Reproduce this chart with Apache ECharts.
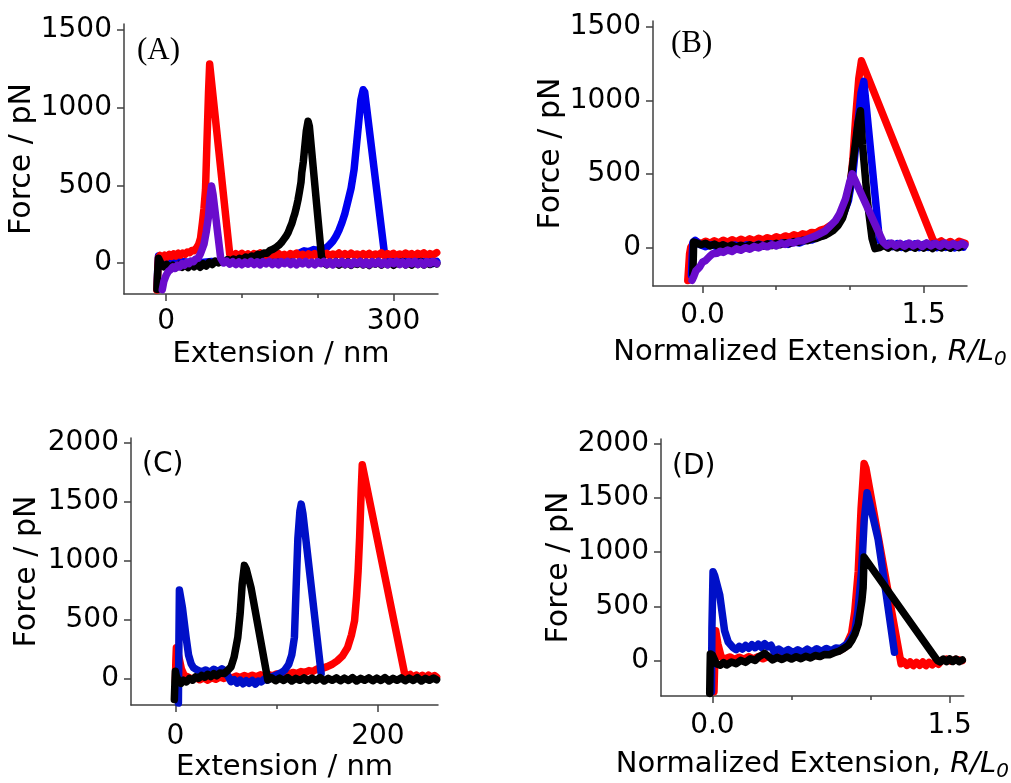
<!DOCTYPE html>
<html>
<head>
<meta charset="utf-8">
<script src="https://cdn.jsdelivr.net/npm/echarts@6/dist/echarts.min.js"></script>
<style>
  html, body { margin: 0; padding: 0; background: #fff; }
  #chart { width: 1011px; height: 783px; }
</style>
</head>
<body>
<div id="chart"></div>
<script>
// ---- Panel (A): force vs extension, nm ----
const redA = [[-12,-175],[-11,-60],[-10,35],[-8,48],[-5,30],[-2,50],[1,38],[4,55],[7,42],[10,58],[13,45],[16,62],[19,50],[22,64],[25,55],[28,70],[31,66],[34,80],[37,78],[40,95],[43,120],[45.5,160],[48,260],[50,350],[52,470],[54,790],[56,1100],[57.5,1280],[59,1270],
  [84,55],[88,44],[92,60],[96,48],[100,62],[104,45],[108,58],[112,42],[116,60],[120,50],[124,64],[128,44],[132,56],[136,40],[140,58],[144,48],[148,62],[152,45],[156,55],[160,42],[164,60],[168,50],[172,63],[176,45],[180,56],[184,40],[188,58],[192,46],[196,60],[200,44],[204,57],[208,48],[212,62],[216,45],[220,58],[224,50],[228,64],[232,46],[236,60],[240,48],[244,63],[248,50],[252,58],[256,44],[260,60],[264,48],[268,62],[272,46],[276,58],[280,50],[284,65],[288,47],[292,60],[296,50],[300,62],[304,46],[308,58],[312,49],[316,64],[320,50],[324,60],[328,45],[332,62],[336,52],[340,65],[344,48],[348,60],[352,50],[357,66]];
const blueA = [[-12,-170],[-11,-40],[-10,45],[-7,30],[-3,10],[0,5],[20,10],[40,0],[60,10],[80,5],[100,15],[120,10],[140,15],[150,20],[160,35],[168,50],[175,62],[182,78],[188,72],[195,86],[202,80],[208,90],[212,100],[216,118],[220,140],[224,170],[228,210],[232,260],[236,320],[240,400],[244,480],[248,600],[251,750],[254,900],[257,1050],[260,1115],[262,1100],
  [288,64],[292,25],[296,5],[300,15],[304,-2],[308,12],[312,0],[316,14],[320,-3],[324,10],[328,2],[332,16],[336,-2],[340,12],[344,0],[348,14],[352,-4],[357,10]];
const blackA = [[-12,-170],[-11,-50],[-10,30],[-7,0],[-3,-25],[1,-10],[5,-35],[9,-15],[13,-30],[17,-10],[21,-28],[25,-12],[29,-30],[33,-8],[37,-25],[41,-10],[45,-28],[49,-5],[53,-20],[57,5],[61,-10],[65,12],[69,0],[73,18],[77,5],[81,22],[85,10],[89,25],[93,15],[97,30],[101,20],[105,38],[109,30],[113,45],[117,38],[121,55],[125,50],[129,64],[133,62],[137,80],[141,88],[145,100],[149,115],[152,130],[155,150],[158,170],[161,195],[163,220],[166,255],[168,290],[170,320],[172,360],[174,405],[176,460],[178,520],[179,580],[181,650],[182,700],[184,800],[185,850],[187.3,912],[189,880],
  [205,42],[208,0],[212,-12],[216,5],[220,-10],[224,8],[228,-14],[232,2],[236,-12],[240,6],[244,-15],[248,0],[252,-10],[256,8],[260,-12],[264,3],[268,-16],[272,5],[276,-8],[280,8],[284,-14],[288,2],[292,-10],[296,6],[300,-15],[304,0],[308,-8],[312,8],[316,-12],[320,4],[324,-14],[328,5],[332,-9],[336,8],[340,-13],[344,2],[348,-10],[352,6],[357,-6]];
const purpleA = [[-5,-172],[-3,-120],[0,-80],[3,-55],[6,-43],[9,-25],[12,-35],[15,-15],[18,-25],[21,-5],[24,-15],[27,2],[30,-5],[33,12],[36,8],[39,25],[42,30],[45,55],[47,80],[50,120],[53,200],[56,300],[58,420],[60,495],[62,440],
  [72,32],[76,0],[80,12],[84,-8],[88,8],[92,-10],[96,6],[100,-12],[104,5],[108,-8],[112,10],[116,-10],[120,6],[124,-12],[128,8],[132,-6],[136,10],[140,-10],[144,5],[148,-12],[152,8],[156,-5],[160,10],[164,-10],[168,6],[172,-12],[176,8],[180,-6],[184,10],[188,-10],[192,5],[196,-12],[200,8],[204,-5],[208,10],[212,-10],[216,6],[220,-12],[224,8],[228,-6],[232,10],[236,-10],[240,5],[244,-12],[248,8],[252,-5],[256,10],[260,-10],[264,6],[268,-12],[272,8],[276,-6],[280,10],[284,-10],[288,5],[292,-12],[296,8],[300,-5],[304,10],[308,-10],[312,6],[316,-12],[320,8],[324,-6],[328,10],[332,-10],[336,5],[340,-12],[344,8],[348,-5],[352,10],[357,-4]];

// ---- Panel (B): force vs normalized extension ----
const redB = [[-0.1,-225],[-0.095,-150],[-0.088,-45],[-0.08,0],[-0.06,30],[-0.04,40],[-0.01,25],[0.02,42],[0.05,28],[0.08,45],[0.11,30],[0.14,48],[0.17,35],[0.2,52],[0.23,38],[0.26,55],[0.29,42],[0.32,58],[0.35,45],[0.38,62],[0.41,50],[0.44,66],[0.47,55],[0.5,72],[0.53,60],[0.56,78],[0.59,68],[0.62,85],[0.65,75],[0.68,92],[0.71,85],[0.74,102],[0.77,98],[0.8,118],[0.83,125],[0.86,145],[0.89,160],[0.92,185],[0.95,230],[0.97,280],[0.99,350],[1.0,400],[1.02,600],[1.04,900],[1.06,1150],[1.078,1270],
  [1.565,48],[1.59,28],[1.62,44],[1.65,22],[1.68,40],[1.71,20],[1.74,42],[1.78,28]];
const blueB = [[-0.075,-190],[-0.07,-60],[-0.065,35],[-0.05,48],[-0.02,20],[0.02,5],[0.06,18],[0.1,2],[0.14,15],[0.18,0],[0.22,16],[0.26,2],[0.3,18],[0.34,5],[0.38,22],[0.42,8],[0.46,25],[0.5,12],[0.54,30],[0.58,20],[0.62,38],[0.66,30],[0.7,50],[0.74,50],[0.78,70],[0.82,80],[0.86,108],[0.9,140],[0.95,210],[0.99,320],[1.02,500],[1.05,800],[1.075,1050],[1.094,1130],
  [1.2,50],[1.23,12],[1.26,28],[1.29,5],[1.32,25],[1.35,0],[1.38,22],[1.41,2],[1.44,24],[1.47,-2],[1.5,20],[1.53,0],[1.56,22],[1.59,-2],[1.62,20],[1.65,0],[1.68,18],[1.71,-4],[1.74,16],[1.77,2]];
const blackB = [[-0.066,-180],[-0.062,-50],[-0.06,36],[-0.04,30],[-0.01,18],[0.02,28],[0.05,10],[0.08,22],[0.11,5],[0.14,18],[0.17,2],[0.2,16],[0.23,0],[0.26,15],[0.29,2],[0.32,18],[0.35,4],[0.38,20],[0.41,8],[0.44,24],[0.47,12],[0.5,28],[0.53,18],[0.56,32],[0.59,25],[0.62,40],[0.65,35],[0.68,48],[0.71,45],[0.74,58],[0.77,60],[0.8,72],[0.83,82],[0.86,98],[0.89,118],[0.92,150],[0.95,200],[0.98,300],[1.0,420],[1.03,650],[1.055,850],[1.071,930],[1.085,700],[1.12,300],[1.15,60],[1.17,-9],
  [1.2,-2],[1.23,15],[1.26,-5],[1.29,18],[1.32,-4],[1.35,16],[1.38,-8],[1.41,14],[1.44,-6],[1.47,18],[1.5,-5],[1.53,15],[1.56,-8],[1.59,16],[1.62,-4],[1.65,14],[1.68,-6],[1.71,18],[1.74,-2],[1.77,12]];
const purpleB = [[-0.071,-224],[-0.06,-200],[-0.045,-160],[-0.02,-134],[0.0,-100],[0.02,-90],[0.05,-60],[0.07,-43],[0.1,-40],[0.12,-26],[0.14,-34],[0.17,-18],[0.2,-28],[0.23,-10],[0.26,-20],[0.29,-2],[0.32,-12],[0.35,5],[0.38,-4],[0.41,12],[0.44,4],[0.47,18],[0.5,10],[0.53,26],[0.56,20],[0.59,34],[0.62,30],[0.65,44],[0.68,45],[0.72,60],[0.76,75],[0.8,95],[0.83,110],[0.86,140],[0.9,180],[0.93,229],[0.97,330],[1.0,450],[1.015,500],
  [1.225,36],[1.25,12],[1.28,30],[1.31,10],[1.34,28],[1.37,8],[1.4,30],[1.43,10],[1.46,28],[1.49,6],[1.52,30],[1.55,10],[1.58,28],[1.61,8],[1.64,30],[1.67,10],[1.7,26],[1.73,8],[1.76,28],[1.78,16]];

// ---- Panel (C): force vs extension, nm ----
const redC = [[0,-30],[0.5,150],[1,260],[3,200],[6,80],[9,20],[12,15],[16,-5],[20,8],[24,-12],[28,4],[32,-15],[36,6],[40,-8],[44,12],[48,0],[52,16],[56,4],[60,20],[64,8],[68,24],[72,12],[76,26],[80,14],[84,30],[88,18],[92,32],[96,22],[100,38],[104,28],[108,44],[112,34],[116,50],[120,42],[124,58],[128,50],[132,66],[136,60],[140,80],[145,85],[150,100],[155,120],[160,150],[165,190],[170,260],[174,370],[177,490],[179,700],[180.5,909],[182,1200],[183.6,1608],[184.6,1815],
  [226.4,42],[229,18],[232,34],[235,10],[238,28],[241,6],[244,26],[247,8],[250,28],[253,10],[256,24],[258,12]];
const blueC = [[3,-210],[3.5,300],[4,750],[5,740],[7,600],[10.6,350],[13,200],[15.5,126],[18,90],[22,70],[26,55],[30,72],[34,50],[38,78],[42,58],[46,82],[48,70],[52,20],[55,-28],[58,-10],[61,-40],[64,-15],[67,-45],[70,-20],[73,-42],[76,-18],[79,-48],[82,-22],[85,-30],[88,-5],[91,-15],[95,12],[100,30],[105,50],[108,70],[112,120],[115,200],[117.6,350],[119,700],[121,1189],[123,1420],[124.3,1480],[126,1400],[144,42]];
const blackC = [[-1,-180],[-0.5,-50],[0,60],[1,20],[3,-20],[5.6,-42],[8,-15],[11,-30],[14,0],[17,-15],[20,14],[23,0],[26,25],[29,10],[32,35],[35,15],[38,40],[41,22],[44,45],[48.4,42],[52,70],[55,98],[58,180],[61.7,350],[64,550],[66,800],[68.2,960],[70,930],[74.8,769],[91.3,-14],
  [95,5],[99,-20],[103,2],[107,-18],[111,6],[115,-22],[119,0],[123,-16],[127,4],[131,-20],[135,2],[139,-18],[143,6],[147,-22],[151,0],[155,-16],[159,4],[163,-20],[167,2],[171,-18],[175,6],[179,-22],[183,0],[187,-16],[191,4],[195,-20],[199,2],[203,-18],[207,6],[211,-22],[215,0],[219,-16],[223,4],[227,-20],[231,2],[235,-18],[239,6],[243,-22],[247,0],[251,-16],[255,4],[258,-12]];

// ---- Panel (D): force vs normalized extension ----
const redD = [[0.01,-290],[0.015,0],[0.021,274],[0.035,150],[0.056,30],[0.08,15],[0.11,32],[0.14,10],[0.17,30],[0.2,12],[0.23,34],[0.26,14],[0.29,36],[0.32,15],[0.35,35],[0.38,16],[0.41,36],[0.44,18],[0.47,38],[0.5,20],[0.53,40],[0.56,24],[0.59,44],[0.62,30],[0.65,50],[0.68,40],[0.71,62],[0.74,58],[0.77,78],[0.8,88],[0.84,121],[0.88,250],[0.9,450],[0.922,822],[0.94,1400],[0.959,1820],[0.97,1780],
  [1.193,-31],[1.21,-10],[1.23,-45],[1.25,-15],[1.27,-48],[1.29,-18],[1.31,-45],[1.33,-15],[1.35,-48],[1.37,-18],[1.39,-42],[1.41,-12],[1.43,-35],[1.45,0],[1.48,12],[1.51,-8],[1.54,10],[1.58,-2]];
const blueD = [[-0.006,-290],[-0.003,300],[0.004,820],[0.015,780],[0.046,608],[0.077,274],[0.1,170],[0.129,121],[0.15,100],[0.17,130],[0.19,105],[0.21,138],[0.23,112],[0.25,145],[0.27,118],[0.29,150],[0.31,120],[0.33,155],[0.35,125],[0.37,140],[0.39,80],[0.42,105],[0.45,75],[0.48,100],[0.51,72],[0.54,98],[0.57,75],[0.6,104],[0.63,78],[0.66,108],[0.69,82],[0.72,110],[0.75,90],[0.78,115],[0.81,110],[0.85,150],[0.88,210],[0.901,274],[0.92,450],[0.943,822],[0.96,1300],[0.978,1550],[0.995,1450],[1.047,1126],[1.1,600],[1.151,76]];
const blackD = [[-0.017,-305],[-0.015,-100],[-0.013,60],[0.0,50],[0.025,-31],[0.05,-45],[0.07,-20],[0.09,-42],[0.12,-15],[0.15,-30],[0.18,0],[0.21,-18],[0.24,15],[0.27,0],[0.296,35],[0.33,65],[0.36,30],[0.38,5],[0.41,28],[0.44,8],[0.47,32],[0.5,12],[0.53,34],[0.56,15],[0.59,38],[0.62,22],[0.65,45],[0.68,35],[0.71,55],[0.74,52],[0.77,70],[0.8,85],[0.83,110],[0.86,140],[0.88,182],[0.9,240],[0.922,335],[0.945,550],[0.953,669],[0.959,955],
  [1.422,0],[1.44,-15],[1.46,12],[1.48,-12],[1.5,14],[1.52,-10],[1.54,12],[1.56,-12],[1.58,4]];

// ---- tick values ----
const forceTicksAB = [0, 500, 1000, 1500];
const forceTicksCD = [0, 500, 1000, 1500, 2000];
const extLabelsA = [0, 300], extMinorA = [100, 200];
const extLabelsC = [0, 200], extMinorC = [100];
const normLabels = [0, 1.5], normMinor = [0.5, 1.0];

const FONT = 'DejaVu Sans';
const AXIS_COLOR = '#404040';
const RED = '#ff0000', BLUE = '#0000f0', BLUE2 = '#0010c8', BLACK = '#000000', PURPLE = '#6a0ccc';

const panels = [
  { left: 124, top: 24, width: 314, height: 270, xmin: -55.5, xmax: 358.7, ymin: -200, ymax: 1538,
    xLabels: extLabelsA, xMinor: extMinorA, yTicks: forceTicksAB, xName: 'Extension / nm', dec: 0,
    xLabelMargin: 14, xNameGap: 46, yNameGap: 76 },
  { left: 653, top: 21, width: 314, height: 265, xmin: -0.336, xmax: 1.794, ymin: -263, ymax: 1541,
    xLabels: normLabels, xMinor: normMinor, yTicks: forceTicksAB, xName: 'norm', dec: 1,
    xLabelMargin: 16, xNameGap: 48, yNameGap: 79 },
  { left: 131, top: 438, width: 307, height: 271, xmin: -43.8, xmax: 259.4, ymin: -226, ymax: 2042,
    xLabels: extLabelsC, xMinor: extMinorC, yTicks: forceTicksCD, xName: 'Extension / nm', dec: 0,
    xLabelMargin: 18, xNameGap: 48, yNameGap: 89 },
  { left: 661, top: 439, width: 306, height: 260, xmin: -0.325, xmax: 1.589, ymin: -329, ymax: 2046,
    xLabels: normLabels, xMinor: normMinor, yTicks: forceTicksCD, xName: 'norm', dec: 1,
    xLabelMargin: 16, xNameGap: 50, yNameGap: 81 }
];

const grid = [], xAxis = [], yAxis = [];
const normName = '{n|Normalized Extension, }{i|R/L}{s|0}';
const nameRich = {
  n: { fontFamily: FONT, fontSize: 29, color: '#000' },
  i: { fontFamily: FONT, fontSize: 29, fontStyle: 'italic', color: '#000' },
  s: { fontFamily: FONT, fontSize: 20, fontStyle: 'italic', color: '#000', padding: [16, 0, 0, 0] }
};

panels.forEach((p, k) => {
  grid.push({ left: p.left, top: p.top, width: p.width, height: p.height, containLabel: false });
  // main x axis: line, labels, major ticks, name
  xAxis.push({
    type: 'value', gridIndex: k, position: 'bottom', offset: 0, min: p.xmin, max: p.xmax,
    axisLine: { show: true, onZero: false, lineStyle: { color: AXIS_COLOR, width: 1.5 } },
    axisTick: { show: true, inside: false, length: 7, customValues: p.xLabels, lineStyle: { color: AXIS_COLOR, width: 1.5 } },
    axisLabel: { show: true, customValues: p.xLabels, margin: p.xLabelMargin, fontFamily: FONT, fontSize: 28, color: '#000',
      formatter: v => v.toFixed(p.dec) },
    splitLine: { show: false },
    name: p.xName === 'norm' ? normName : p.xName,
    nameLocation: 'middle', nameGap: p.xNameGap,
    nameTextStyle: p.xName === 'norm' ? { rich: nameRich } : { fontFamily: FONT, fontSize: 29, color: '#000' }
  });
  // second x axis on the same grid: short minor ticks only
  xAxis.push({
    type: 'value', gridIndex: k, position: 'bottom', offset: 0, min: p.xmin, max: p.xmax,
    axisLine: { show: false, onZero: false },
    axisTick: { show: true, length: 4, customValues: p.xMinor, lineStyle: { color: AXIS_COLOR, width: 1.5 } },
    axisLabel: { show: false },
    splitLine: { show: false }
  });
  yAxis.push({
    type: 'value', gridIndex: k, min: p.ymin, max: p.ymax,
    axisLine: { show: true, onZero: false, lineStyle: { color: AXIS_COLOR, width: 1.5 } },
    axisTick: { show: true, length: 7, customValues: p.yTicks, lineStyle: { color: AXIS_COLOR, width: 1.5 } },
    axisLabel: { show: true, customValues: p.yTicks, margin: 12, fontFamily: FONT, fontSize: 28, color: '#000',
      formatter: v => String(v) },
    splitLine: { show: false },
    name: 'Force / pN', nameLocation: 'middle', nameGap: p.yNameGap,
    nameTextStyle: { fontFamily: FONT, fontSize: 30, color: '#000' }
  });
});

function curve(data, color, k) {
  return {
    type: 'line', data: data, xAxisIndex: 2 * k, yAxisIndex: k,
    showSymbol: false, symbol: 'none', smooth: false, animation: false,
    lineStyle: { color: color, width: 7.5, cap: 'round', join: 'round' },
    itemStyle: { color: color }
  };
}

const series = [
  curve(blueA, BLUE, 0), curve(redA, RED, 0), curve(blackA, BLACK, 0), curve(purpleA, PURPLE, 0),
  curve(redB, RED, 1), curve(blueB, BLUE, 1), curve(blackB, BLACK, 1), curve(purpleB, PURPLE, 1),
  curve(redC, RED, 2), curve(blueC, BLUE2, 2), curve(blackC, BLACK, 2),
  curve(redD, RED, 3), curve(blueD, BLUE2, 3), curve(blackD, BLACK, 3)
];

const title = [
  { text: '(A)', left: 137, top: 35, textStyle: { fontFamily: 'Liberation Serif', fontSize: 31, fontWeight: 'normal', color: '#000' } },
  { text: '(B)', left: 671, top: 28, textStyle: { fontFamily: 'Liberation Serif', fontSize: 31, fontWeight: 'normal', color: '#000' } },
  { text: '(C)', left: 142, top: 451, textStyle: { fontFamily: FONT, fontSize: 28, fontWeight: 'normal', color: '#000' } },
  { text: '(D)', left: 672, top: 453, textStyle: { fontFamily: FONT, fontSize: 28, fontWeight: 'normal', color: '#000' } }
];
title.forEach(t => { t.padding = 0; });

const chart = echarts.init(document.getElementById('chart'), null, { renderer: 'canvas' });
chart.setOption({
  animation: false,
  backgroundColor: '#ffffff',
  title: title,
  grid: grid,
  xAxis: xAxis,
  yAxis: yAxis,
  series: series
});
</script>
</body>
</html>
